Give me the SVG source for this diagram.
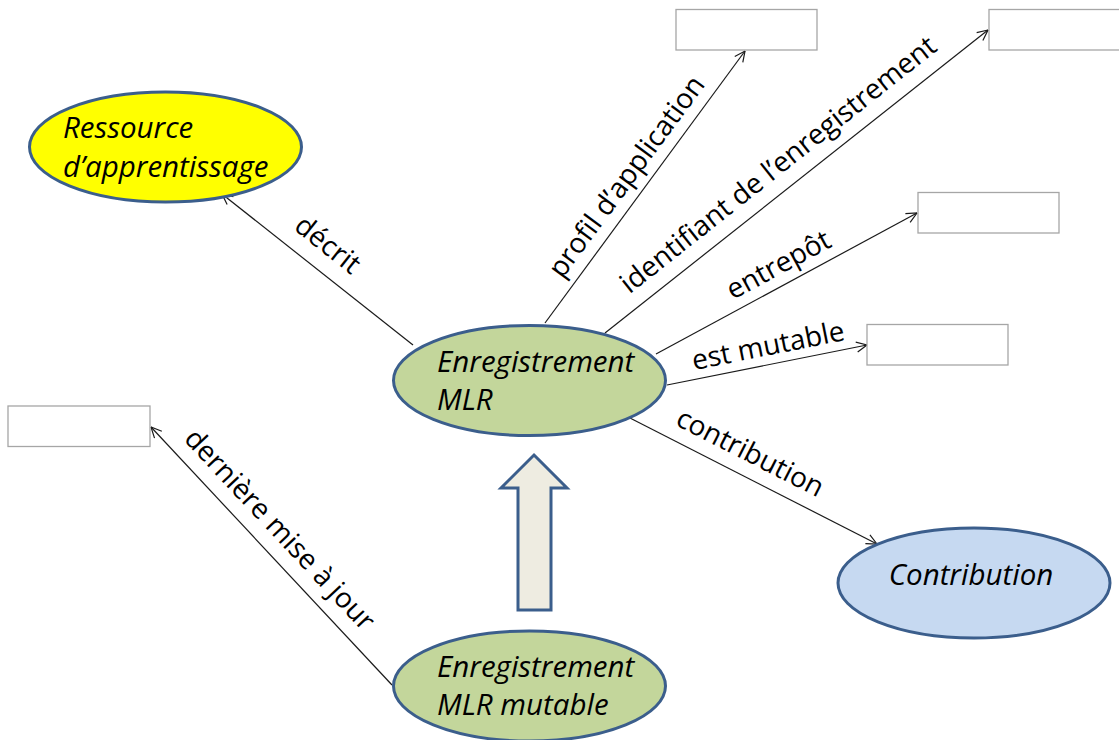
<svg xmlns="http://www.w3.org/2000/svg" width="1119" height="740" viewBox="0 0 1119 740">
<style>
.ell{stroke:#3B5E8C;stroke-width:3}
.box{fill:#ffffff;stroke:#A6A6A6;stroke-width:1.3}
.nt{font-family:"Open Sans","Noto Sans",sans-serif;font-style:italic;font-size:29.5px;fill:#000}
.lbl{font-family:"Open Sans","Noto Sans",sans-serif;font-size:28px;fill:#000;text-anchor:middle}
.con{stroke:#1a1a1a;stroke-width:1.2;fill:none;marker-end:url(#open)}
</style>
<defs>
<marker id="open" markerUnits="userSpaceOnUse" viewBox="0 0 12 12" markerWidth="12" markerHeight="12" refX="11.5" refY="6" orient="auto">
<path d="M1,1 L11.5,6 L1,11" fill="none" stroke="#1a1a1a" stroke-width="1.2"/>
</marker>
</defs>
<rect width="1119" height="740" fill="#ffffff"/>
<g id="connectors">
<line class="con" x1="413" y1="345" x2="222" y2="194"/>
<line class="con" x1="545" y1="323" x2="745" y2="51"/>
<line class="con" x1="605" y1="333" x2="988" y2="30"/>
<line class="con" x1="656" y1="354" x2="917" y2="213"/>
<line class="con" x1="667" y1="385" x2="867" y2="345"/>
<line class="con" x1="628" y1="417" x2="877" y2="544"/>
<line class="con" x1="392" y1="685" x2="151" y2="427"/>
<polygon points="534,455 567,488 551,488 551,610 518,610 518,488 501,488" fill="#EEECE1" stroke="#3B5E8C" stroke-width="3"/>
<text class="lbl" transform="translate(322,252) rotate(38.3)">décrit</text>
<text class="lbl" transform="translate(634,182) rotate(-53.6)">profil d’application</text>
<text class="lbl" transform="translate(784,172) rotate(-38.4)">identifiant de l’enregistrement</text>
<text class="lbl" transform="translate(783,273) rotate(-28.4)">entrepôt</text>
<text class="lbl" transform="translate(770,355) rotate(-11.3)">est mutable</text>
<text class="lbl" transform="translate(746,461) rotate(27)">contribution</text>
<text class="lbl" transform="translate(273,536) rotate(46.9)">dernière mise à jour</text>
</g>
<g id="ressource">
<ellipse class="ell" cx="165.5" cy="147" rx="136" ry="55" fill="#FFFF00"/>
<text class="nt" x="63" y="138">Ressource</text>
<text class="nt" x="63" y="177">d’apprentissage</text>
</g>
<g id="mlr">
<ellipse class="ell" cx="529.5" cy="380.5" rx="136" ry="55" fill="#C3D69B"/>
<text class="nt" x="437" y="372">Enregistrement</text>
<text class="nt" x="437" y="410">MLR</text>
</g>
<g id="mlr-mutable">
<ellipse class="ell" cx="529.5" cy="686" rx="136" ry="55" fill="#C3D69B"/>
<text class="nt" x="437" y="677">Enregistrement</text>
<text class="nt" x="437" y="715">MLR mutable</text>
</g>
<g id="contribution">
<ellipse class="ell" cx="974" cy="583" rx="136" ry="55" fill="#C6D9F1"/>
<text class="nt" x="971" y="585" text-anchor="middle">Contribution</text>
</g>
<g id="box-profil"><rect class="box" x="676" y="9.5" width="141" height="40.5"/></g>
<g id="box-identifiant"><rect class="box" x="989" y="9.5" width="141" height="40.5"/></g>
<g id="box-entrepot"><rect class="box" x="918" y="192.5" width="141" height="40.5"/></g>
<g id="box-mutable"><rect class="box" x="867" y="324.5" width="141" height="40.5"/></g>
<g id="box-derniere"><rect class="box" x="8" y="406" width="142" height="40.5"/></g>
</svg>
